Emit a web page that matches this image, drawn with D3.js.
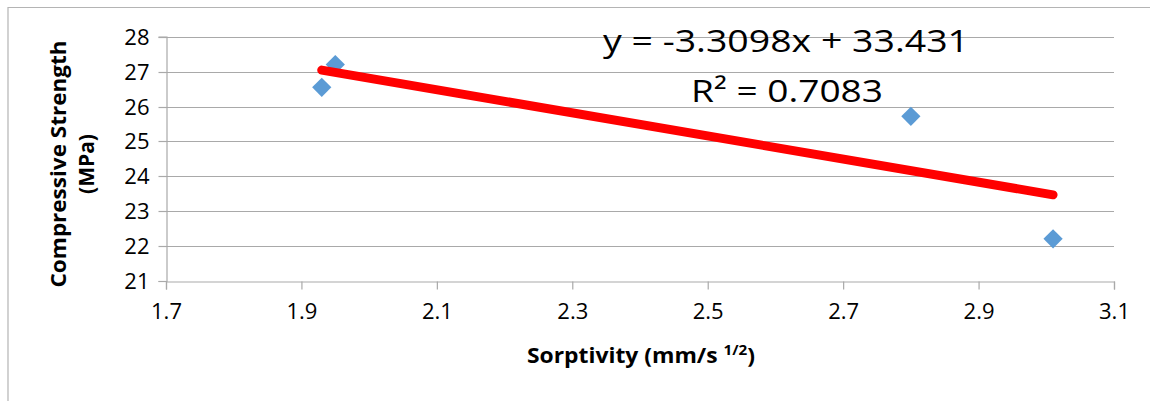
<!DOCTYPE html>
<html>
<head>
<meta charset="utf-8">
<script src="https://cdn.jsdelivr.net/npm/d3@7"></script>
<style>
  html, body { margin: 0; padding: 0; background: #fff; }
  svg { display: block; }
  text { font-family: "Open Sans", "Liberation Sans", sans-serif; fill: #000; }
</style>
</head>
<body>
<svg id="chart" width="1150" height="401"></svg>
<script>
// ---- data ----
const sorptivity = [1.93, 1.95, 2.80, 3.01];
const strength   = [26.55, 27.2, 25.72, 22.21];
const xTicks = [1.7, 1.9, 2.1, 2.3, 2.5, 2.7, 2.9, 3.1];
const yTicks = [21, 22, 23, 24, 25, 26, 27, 28];
const trendSlope = -3.3098;
const trendIntercept = 33.431;
const equationText = "y = -3.3098x + 33.431";
const r2Value = "0.7083";

// ---- layout ----
const svg = d3.select("#chart");
const plotL = 166, plotR = 1114, plotT = 36.7, plotB = 281;
const x = d3.scaleLinear().domain([1.7, 3.1]).range([plotL, plotR]);
const y = d3.scaleLinear().domain([21, 28]).range([plotB, plotT]);
const gridColor = "#a9a9a9";

// outer chart border (only top and left visible)
svg.append("path")
  .attr("d", "M8,401 L8,7.5 L1150,7.5")
  .attr("fill", "none").attr("stroke", "#b4b4b4").attr("stroke-width", 1.2);

// horizontal gridlines
svg.append("g").selectAll("line").data(yTicks.filter(d => d !== 21)).join("line")
  .attr("x1", plotL).attr("x2", plotR)
  .attr("y1", d => Math.round(y(d)) + 0.5).attr("y2", d => Math.round(y(d)) + 0.5)
  .attr("stroke", gridColor).attr("stroke-width", 1.2);

// y axis
const yAxis = svg.append("g").attr("transform", `translate(${Math.round(plotL)+0.5},0)`)
  .call(d3.axisLeft(y).tickValues(yTicks).tickSize(8).tickPadding(9).tickFormat(d3.format("d")));
yAxis.select(".domain").attr("stroke", gridColor).attr("stroke-width", 1.2);
yAxis.selectAll(".tick line").attr("stroke", gridColor).attr("stroke-width", 1.2);
yAxis.selectAll(".tick text").attr("font-size", 22).attr("font-family", "Open Sans").attr("fill", "#000").attr("dy", "0.35em");
yAxis.selectAll(".tick").attr("transform", d => `translate(0,${Math.round(y(d)) + 0.5})`);

// x axis
const xAxis = svg.append("g").attr("transform", `translate(0,${Math.round(plotB)+0.5})`)
  .call(d3.axisBottom(x).tickValues(xTicks).tickSize(8).tickPadding(14).tickFormat(d3.format(".1f")));
xAxis.select(".domain").attr("stroke", gridColor).attr("stroke-width", 1.2);
xAxis.selectAll(".tick line").attr("stroke", gridColor).attr("stroke-width", 1.2);
xAxis.selectAll(".tick text").attr("font-size", 22).attr("font-family", "Open Sans").attr("fill", "#000");

// data points (diamonds)
const diamond = d3.symbol().type(d3.symbolSquare).size(185);
svg.append("g").selectAll("path").data(sorptivity.map((v, i) => [v, strength[i]])).join("path")
  .attr("d", diamond)
  .attr("transform", d => `translate(${x(d[0])},${y(d[1])}) rotate(45)`)
  .attr("fill", "#5b9bd5");

// trendline
const x0 = d3.min(sorptivity), x1 = d3.max(sorptivity);
svg.append("line")
  .attr("x1", x(x0)).attr("y1", y(trendSlope * x0 + trendIntercept))
  .attr("x2", x(x1)).attr("y2", y(trendSlope * x1 + trendIntercept))
  .attr("stroke", "#ff0000").attr("stroke-width", 9).attr("stroke-linecap", "round");

// equation text
svg.append("text").attr("x", 786).attr("y", 52).attr("text-anchor", "middle")
  .attr("font-size", 31).attr("textLength", 366).attr("lengthAdjust", "spacingAndGlyphs")
  .text(equationText);
const r2 = svg.append("text").attr("x", 787).attr("y", 102).attr("text-anchor", "middle")
  .attr("font-size", 31).attr("textLength", 192).attr("lengthAdjust", "spacingAndGlyphs");
r2.append("tspan").text("R");
r2.append("tspan").text("²");
r2.append("tspan").text(" = " + r2Value);

// y axis title
const yt = svg.append("text").attr("transform", "translate(66,164) rotate(-90)")
  .attr("text-anchor", "middle").attr("font-size", 21).attr("font-weight", "bold");
yt.append("tspan").attr("x", 0).attr("y", 0).attr("textLength", 247).attr("lengthAdjust", "spacingAndGlyphs").text("Compressive Strength");
yt.append("tspan").attr("x", 0).attr("y", 28).text("(MPa)");

// x axis title
const xt = svg.append("text").attr("x", 641).attr("y", 363).attr("text-anchor", "middle")
  .attr("font-size", 21).attr("font-weight", "bold")
  .attr("textLength", 228).attr("lengthAdjust", "spacingAndGlyphs");
xt.append("tspan").text("Sorptivity (mm/s ");
xt.append("tspan").attr("font-size", 14).attr("dy", -8).text("1/2");
xt.append("tspan").attr("dy", 8).text(")");
</script>
</body>
</html>
